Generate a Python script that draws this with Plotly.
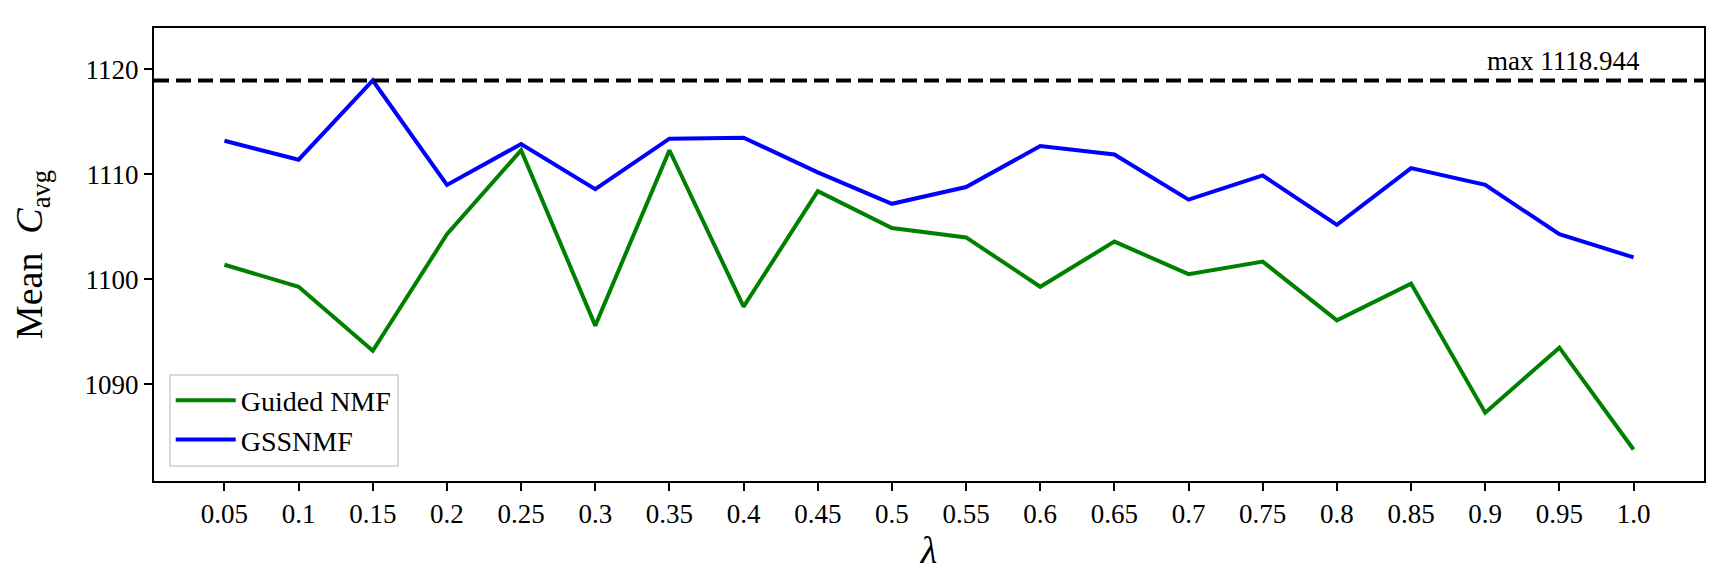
import plotly.graph_objects as go

# lambda values (x categories)
lambdas = ["0.05", "0.1", "0.15", "0.2", "0.25", "0.3", "0.35", "0.4", "0.45", "0.5",
           "0.55", "0.6", "0.65", "0.7", "0.75", "0.8", "0.85", "0.9", "0.95", "1.0"]

guided_nmf = [1101.4, 1099.3, 1093.2, 1104.3, 1112.3, 1095.6, 1112.3, 1097.4, 1108.4, 1104.9,
              1104.0, 1099.3, 1103.6, 1100.5, 1101.7, 1096.1, 1099.6, 1087.3, 1093.5, 1083.8]

gssnmf = [1113.2, 1111.4, 1118.944, 1109.0, 1112.9, 1108.6, 1113.4, 1113.5, 1110.2, 1107.2,
          1108.8, 1112.7, 1111.9, 1107.6, 1109.9, 1105.2, 1110.6, 1109.0, 1104.3, 1102.1]

y_ticks = [1090, 1100, 1110, 1120]

max_val = max(gssnmf)
y_lo = min(guided_nmf) - 3
y_hi = max_val + 5

SERIF = "Liberation Serif, Times New Roman, DejaVu Serif, serif"

fig = go.Figure()
fig.add_trace(go.Scatter(x=lambdas, y=guided_nmf, mode="lines", name="Guided NMF",
                         line=dict(color="green", width=4)))
fig.add_trace(go.Scatter(x=lambdas, y=gssnmf, mode="lines", name="GSSNMF",
                         line=dict(color="blue", width=4)))

# dashed max line across the whole axes
fig.add_shape(type="line", xref="paper", x0=0, x1=1, yref="y", y0=max_val, y1=max_val,
              line=dict(color="black", width=4, dash="15px,7px"))
fig.add_annotation(xref="paper", x=0.96, yref="y", y=max_val, text=f"max {max_val:.3f}",
                   showarrow=False, xanchor="right", yanchor="bottom", yshift=3,
                   font=dict(family=SERIF, size=27, color="black"))

fig.update_layout(
    width=1716, height=586,
    margin=dict(l=146, r=20, t=20, b=113),
    paper_bgcolor="white", plot_bgcolor="white",
    font=dict(family=SERIF, size=27, color="black"),
    showlegend=True,
    legend=dict(x=0.0095, y=0.032, xanchor="left", yanchor="bottom",
                bgcolor="white", bordercolor="#d9d9d9", borderwidth=2,
                font=dict(family=SERIF, size=28, color="black"),
                itemwidth=60, tracegroupgap=0),
)

fig.update_xaxes(
    type="category", range=[-0.95, 19.95],
    showline=True, linecolor="black", linewidth=2, mirror=True,
    ticks="outside", ticklen=8, tickwidth=2, tickcolor="black",
    showgrid=False, zeroline=False,
    title=dict(text="<i>λ</i>", font=dict(family=SERIF, size=38), standoff=8),
)
fig.update_yaxes(
    range=[y_lo, y_hi], tickvals=y_ticks,
    showline=True, linecolor="black", linewidth=2, mirror=True,
    ticks="outside", ticklen=8, tickwidth=2, tickcolor="black",
    showgrid=False, zeroline=False,
    title=dict(text="Mean  <i>C</i><sub>avg</sub>", font=dict(family=SERIF, size=38), standoff=30),
)

fig.write_html("out.html")
